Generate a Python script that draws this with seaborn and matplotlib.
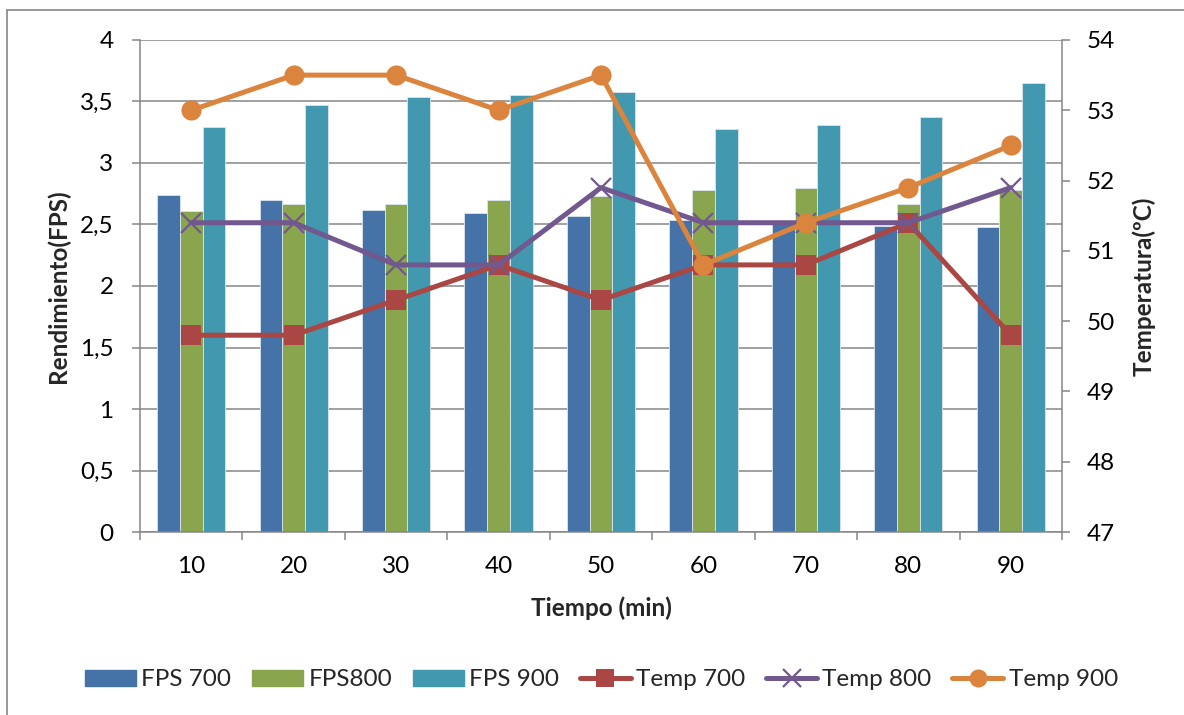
import numpy as np
import pandas as pd
import matplotlib
matplotlib.use("Agg")
import matplotlib.pyplot as plt
from matplotlib.lines import Line2D
from matplotlib.patches import Patch
import seaborn as sns

sns.set_theme(style="white")
plt.rcParams["font.family"] = ["Lato", "DejaVu Sans"]

tiempo = [10, 20, 30, 40, 50, 60, 70, 80, 90]

fps_700 = [2.74, 2.70, 2.62, 2.59, 2.57, 2.54, 2.50, 2.49, 2.48]
fps_800 = [2.61, 2.67, 2.67, 2.70, 2.73, 2.78, 2.80, 2.67, 2.78]
fps_900 = [3.29, 3.47, 3.54, 3.55, 3.58, 3.28, 3.31, 3.37, 3.65]

temp_700 = [49.8, 49.8, 50.3, 50.8, 50.3, 50.8, 50.8, 51.4, 49.8]
temp_800 = [51.4, 51.4, 50.8, 50.8, 51.9, 51.4, 51.4, 51.4, 51.9]
temp_900 = [53.0, 53.5, 53.5, 53.0, 53.5, 50.8, 51.4, 51.9, 52.5]

fps_names = ["FPS 700", "FPS800", "FPS 900"]
temp_names = ["Temp 700", "Temp 800", "Temp 900"]

bar_colors = ["#4572A7", "#89A54E", "#4198AF"]
line_colors = ["#AA4643", "#71588F", "#DB843D"]
grid_gray = "#868686"
fs = 17.5

labels = [str(t) for t in tiempo]
fps_df = pd.DataFrame({
    "Tiempo": labels * 3,
    "FPS": fps_700 + fps_800 + fps_900,
    "Serie": sum([[n] * len(tiempo) for n in fps_names], []),
})

fig = plt.figure(figsize=(11.84, 7.15), dpi=100)
ax = fig.add_axes([0.1182, 0.2559, 0.897 - 0.1182, 0.9441 - 0.2559])

sns.barplot(data=fps_df, x="Tiempo", y="FPS", hue="Serie", order=labels,
            hue_order=fps_names, palette=bar_colors, width=0.665,
            saturation=1, errorbar=None, ax=ax, legend=False,
            edgecolor="#dbe5ee", linewidth=0.6)

ax.set_ylim(0, 4)
ax.set_xlim(-0.5, len(tiempo) - 0.5)
ax.set_yticks(np.arange(0, 4.01, 0.5))
ax.set_yticklabels([("%g" % v).replace(".", ",") for v in np.arange(0, 4.01, 0.5)])
ax.yaxis.grid(True, color=grid_gray, linewidth=1.1)
ax.set_axisbelow(True)
for side in ["top", "right"]:
    ax.spines[side].set_visible(False)
for side in ["left", "bottom"]:
    ax.spines[side].set_color(grid_gray)
    ax.spines[side].set_linewidth(1.1)

# category boundary ticks on the x axis
ax.set_xticks(np.arange(len(tiempo)))
ax.set_xticks(np.arange(-0.5, len(tiempo)), minor=True)
ax.tick_params(axis="x", which="major", length=0, pad=17, labelsize=fs,
               labelcolor="black")
ax.tick_params(axis="x", which="minor", length=6, width=1.1, color=grid_gray,
               direction="out", bottom=True)
ax.tick_params(axis="y", length=6, width=1.1, color=grid_gray, left=True,
               pad=13, labelsize=fs, labelcolor="black")
ax.set_xlabel("Tiempo (min)", fontsize=fs, fontweight="bold", labelpad=14)
ax.set_ylabel("Rendimiento(FPS)", fontsize=fs, fontweight="bold", labelpad=7)

ax2 = ax.twinx()
markers = ["s", "x", "o"]
for vals, col, mk in zip([temp_700, temp_800, temp_900], line_colors, markers):
    df = pd.DataFrame({"Tiempo": labels, "Temp": vals})
    sns.pointplot(data=df, x="Tiempo", y="Temp", order=labels, color=col,
                  marker=mk, markersize=14.5, linewidth=3.6, errorbar=None,
                  ax=ax2, markeredgewidth=1.6 if mk == "x" else 0)
ax2.set_xlim(-0.5, len(tiempo) - 0.5)
ax2.set_ylim(47, 54)
ax2.set_yticks(np.arange(47, 54.01, 1))
ax2.set_yticklabels([str(v) for v in range(47, 55)])
ax2.grid(False)
for side in ["top", "left", "bottom"]:
    ax2.spines[side].set_visible(False)
ax2.spines["right"].set_color(grid_gray)
ax2.spines["right"].set_linewidth(1.1)
ax2.tick_params(axis="y", length=6, width=1.1, color=grid_gray, right=True,
                pad=12, labelsize=fs, labelcolor="black")
ax2.set_ylabel("Temperatura(ºC)", fontsize=fs, fontweight="bold", labelpad=12)

# legend along the bottom
handles = [Patch(facecolor=c, edgecolor=c) for c in bar_colors]
handles += [Line2D([], [], color=c, linewidth=3.6, marker=m, markersize=13,
                   markeredgewidth=1.6 if m == "x" else 0)
            for c, m in zip(line_colors, markers)]
fig.legend(handles, fps_names + temp_names, loc="center", ncol=6,
           bbox_to_anchor=(0.508, 0.049), frameon=False, fontsize=fs,
           handlelength=2.1, handleheight=0.6, handletextpad=0.22,
           columnspacing=0.85)

# chart-area frame
fig.add_artist(Line2D([0.006, 0.006], [0, 0.986], color=grid_gray, linewidth=1.2,
                      transform=fig.transFigure))
fig.add_artist(Line2D([0.006, 1.0], [0.986, 0.986], color=grid_gray, linewidth=1.2,
                      transform=fig.transFigure))

fig.savefig("out.png", dpi=100)
